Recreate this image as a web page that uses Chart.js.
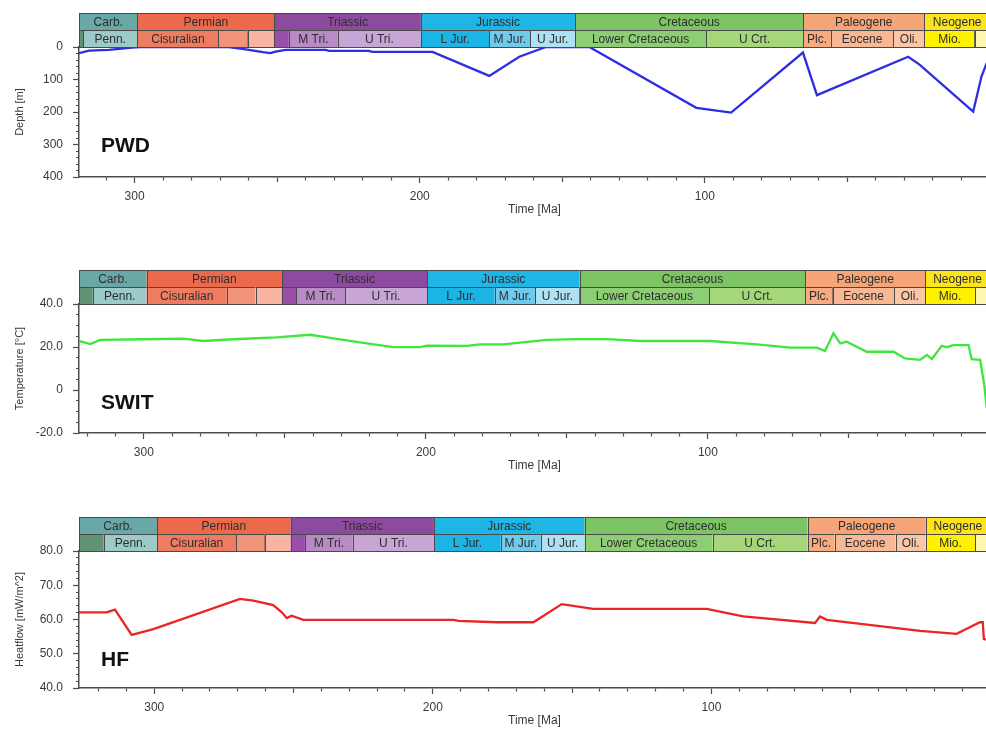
<!DOCTYPE html>
<html>
<head>
<meta charset="utf-8">
<script src="https://cdn.jsdelivr.net/npm/chart.js@4.4.0/dist/chart.umd.min.js"></script>
<style>
html, body { margin: 0; padding: 0; background: #fff; overflow: hidden; width: 986px; height: 729px; }
canvas { position: absolute; left: 0; }
</style>
</head>
<body>
<canvas id="pwdChart" width="1000" height="227" style="top:0px"></canvas>
<canvas id="switChart" width="1000" height="226" style="top:257px"></canvas>
<canvas id="hfChart" width="1000" height="234" style="top:504px"></canvas>
<script>
// geologic time scale (Ma)
const periodName = ['Carb.', 'Permian', 'Triassic', 'Jurassic', 'Cretaceous', 'Paleogene', 'Neogene']
const periodStart = [359.2, 299.0, 251.0, 199.6, 145.5, 65.5, 23.03]
const periodEnd = [299.0, 251.0, 199.6, 145.5, 65.5, 23.03, 0]
const periodColor = ['#68a9a7', '#ec6a4c', '#8d4b9f', '#1fb6e6', '#7dc465', '#f6a579', '#fbe41e']

const epochName = ['', 'Penn.', 'Cisuralian', '', '', '', 'M Tri.', 'U Tri.', 'L Jur.', 'M Jur.', 'U Jur.', 'Lower Cretaceous', 'U Crt.', 'Plc.', 'Eocene', 'Oli.', 'Mio.', '']
const epochStart = [359.2, 318.1, 299.0, 270.6, 260.4, 251.0, 245.9, 228.7, 199.6, 175.6, 161.2, 145.5, 99.6, 65.5, 55.8, 33.9, 23.03, 5.332]
const epochEnd = [318.1, 299.0, 270.6, 260.4, 251.0, 245.9, 228.7, 199.6, 175.6, 161.2, 145.5, 99.6, 65.5, 55.8, 33.9, 23.03, 5.332, 0]
const epochColor = ['#5f9373', '#9bcac9', '#ee7c60', '#f29479', '#f7b5a1', '#9a50a8', '#b98bc4', '#c7a5d4',
                    '#1cb4e5', '#6fcbed', '#afe1f4', '#8dce75', '#a6d67a', '#f8ab80', '#f9b894', '#fbc6a6', '#fff200', '#fff6b0']

// paleo water depth
const pwdAge = [319.5, 316, 309, 301, 298, 267, 261, 255, 252.3, 250.6, 247, 233, 231.8, 217.8, 216.7, 195.5, 175.6, 165.1, 155.7, 140.5, 103, 90.8, 65.6, 60.7, 28.7, 24.6, 5.9, 3, 1.4, 0]
const pwdDepth = [19, 11, 9, 2, 0, 0, 7, 16, 19, 14, 9, 9, 12, 12, 15, 15, 89, 30, 0, 0, 187, 202, 17, 148, 30, 55, 199, 91, 55, 25]

// sediment water interface temperature
const switAge = [323, 319, 315.5, 300.2, 286, 279, 268.3, 253, 241, 232.8, 221, 211.5, 202, 199.7, 185.5, 180.8, 172.5, 157.2, 146.5, 135.9, 124, 99.2, 82.7, 70.9, 61.4, 58.5, 55.5, 53.1, 50.8, 43.7, 34.2, 30.1, 24.8, 22.4, 20.6, 17.1, 15.3, 13, 7.6, 6.5, 3.5, 2, 1.2, 0]
const switTemp = [22.8, 21.4, 23.3, 23.6, 23.9, 22.8, 23.6, 24.5, 25.7, 24, 21.7, 19.9, 19.9, 20.6, 20.5, 21.2, 21.2, 23.3, 23.7, 23.7, 22.8, 22.8, 21.2, 19.7, 19.7, 18.1, 26.4, 21.7, 22.5, 17.8, 17.8, 14.7, 14, 16.3, 14.4, 20.5, 19.9, 20.9, 20.9, 14.3, 14, 2, -8, -10]

// heat flow
const hfAge = [327, 317.1, 314.1, 308.1, 300.3, 269.2, 264.4, 257.3, 254.2, 252.4, 250.7, 246.5, 192.6, 190.8, 177.1, 163.9, 153.7, 142.4, 101.7, 88.6, 62.8, 61, 58.6, 25.1, 12, 3.6, 2.6, 2.2, 0]
const hfFlow = [62.1, 62.1, 62.9, 55.5, 57.2, 66, 65.5, 64.2, 62.1, 60.4, 61.1, 59.9, 59.9, 59.6, 59.2, 59.2, 64.5, 63.1, 63.1, 60.9, 59, 60.9, 59.9, 56.7, 55.8, 59.2, 59.2, 54.3, 54]

const fontFamily = '"Liberation Sans", Arial, sans-serif'
const ROW_H = 17

function drawRow(ctx, x, area, top, h, names, starts, ends, colors) {
    ctx.font = '12px ' + fontFamily
    ctx.textAlign = 'center'
    ctx.textBaseline = 'middle'
    for (let i = 0; i < names.length; i++) {
        const x0 = Math.max(area.left, x.getPixelForValue(starts[i]))
        const x1 = Math.min(area.right, x.getPixelForValue(ends[i]))
        if (x1 <= x0) continue
        ctx.fillStyle = colors[i]
        ctx.fillRect(x0, top, x1 - x0, h)
        ctx.strokeStyle = '#4a4a4a'
        ctx.lineWidth = 1
        ctx.strokeRect(Math.round(x0) + 0.5, top + 0.5, Math.round(x1 - x0), h)
        if (names[i]) {
            ctx.fillStyle = '#2e2e2e'
            ctx.fillText(names[i], (x0 + x1) / 2, top + h / 2 + 1)
        }
    }
}

const timescale = {
    id: 'timescale',
    afterDraw(chart, args, opts) {
        const { ctx, chartArea: area, scales: { x, y } } = chart
        ctx.save()
        drawRow(ctx, x, area, area.top - 2 * ROW_H, ROW_H, periodName, periodStart, periodEnd, periodColor)
        drawRow(ctx, x, area, area.top - ROW_H, ROW_H, epochName, epochStart, epochEnd, epochColor)
        // panel name
        ctx.font = 'bold 21px ' + fontFamily
        ctx.fillStyle = '#111'
        ctx.textAlign = 'left'
        ctx.textBaseline = 'middle'
        ctx.fillText(opts.label, area.left + 22, y.getPixelForValue(opts.labelValue))
        ctx.restore()
    }
}

function toPoints(ages, vals) {
    return ages.map((a, i) => ({ x: a, y: vals[i] }))
}

function makeOptions(o) {
    return {
        responsive: false,
        animation: false,
        layout: { padding: { top: 47, bottom: 10, left: 0, right: 10 } },
        plugins: {
            legend: { display: false },
            tooltip: { enabled: false },
            timescale: { label: o.label, labelValue: o.labelValue }
        },
        scales: {
            x: {
                type: 'linear',
                reverse: true,
                min: 0,
                max: o.xMax,
                afterFit(scale) { scale.height = 40 },
                border: { display: true, color: '#4d4d4d', width: 1.5 },
                grid: {
                    drawOnChartArea: false,
                    tickLength: 6,
                    tickColor: '#4d4d4d',
                    tickWidth: 1.2,
                    tickBorderDash: (c) => {
                        const v = c.tick ? c.tick.value : 0
                        if (v % 100 === 0) return []
                        if (v % 50 === 0) return [4.5, 50]
                        return [3, 50]
                    }
                },
                ticks: {
                    stepSize: 10,
                    includeBounds: false,
                    autoSkip: false,
                    maxRotation: 0,
                    padding: 6,
                    color: '#3a3a3a',
                    font: { family: fontFamily, size: 12 },
                    callback: (v) => (v % 100 === 0 && v > 0 ? String(v) : '')
                },
                title: {
                    display: true,
                    text: 'Time [Ma]',
                    color: '#3a3a3a',
                    font: { family: fontFamily, size: 12 },
                    padding: { top: 0, bottom: 0 }
                }
            },
            y: {
                type: 'linear',
                reverse: !!o.yReverse,
                min: o.yMin,
                max: o.yMax,
                afterFit(scale) { scale.width = 79 },
                border: { display: true, color: '#4d4d4d', width: 1.5 },
                grid: {
                    drawOnChartArea: false,
                    tickLength: 6,
                    tickColor: '#4d4d4d',
                    tickWidth: 1.2,
                    tickBorderDash: (c) => {
                        const v = c.tick ? c.tick.value : 0
                        return Math.abs(v % o.yMajor) < 1e-6 ? [] : [0, 3, 3, 50]
                    }
                },
                ticks: {
                    stepSize: o.yStep,
                    autoSkip: false,
                    padding: 10,
                    color: '#3a3a3a',
                    font: { family: fontFamily, size: 12 },
                    callback: (v) => (Math.abs(v % o.yMajor) < 1e-6 ? o.fmt(v) : '')
                },
                title: {
                    display: true,
                    text: o.yTitle,
                    color: '#3a3a3a',
                    font: { family: fontFamily, size: 11 },
                    padding: { top: 13, bottom: 0 }
                }
            }
        }
    }
}

function lineData(ages, vals, colour) {
    return {
        datasets: [{
            data: toPoints(ages, vals),
            borderColor: colour,
            borderWidth: 2.3,
            pointRadius: 0,
            tension: 0
        }]
    }
}

const pwdChart = new Chart(document.getElementById('pwdChart'), {
    type: 'line',
    data: lineData(pwdAge, pwdDepth, '#2d2de2'),
    options: makeOptions({ xMax: 319.5, yMin: 0, yMax: 400, yStep: 20, yMajor: 100, yReverse: true,
        yTitle: 'Depth [m]', fmt: (v) => String(v), label: 'PWD', labelValue: 305 }),
    plugins: [timescale]
})

const switChart = new Chart(document.getElementById('switChart'), {
    type: 'line',
    data: lineData(switAge, switTemp, '#3ee63e'),
    options: makeOptions({ xMax: 323, yMin: -20, yMax: 40, yStep: 5, yMajor: 20,
        yTitle: 'Temperature [°C]', fmt: (v) => (v === 0 ? '0' : v.toFixed(1)), label: 'SWIT', labelValue: -6 }),
    plugins: [timescale]
})

const hfChart = new Chart(document.getElementById('hfChart'), {
    type: 'line',
    data: lineData(hfAge, hfFlow, '#ec2424'),
    options: makeOptions({ xMax: 327, yMin: 40, yMax: 80, yStep: 2, yMajor: 10,
        yTitle: 'Heatflow [mW/m^2]', fmt: (v) => v.toFixed(1), label: 'HF', labelValue: 48 }),
    plugins: [timescale]
})
</script>
</body>
</html>
